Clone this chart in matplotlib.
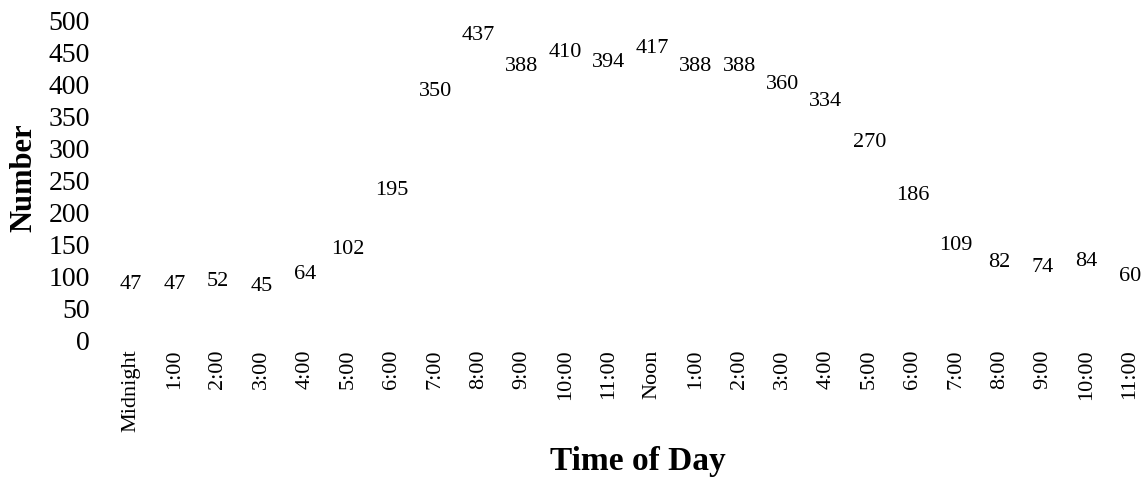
import matplotlib
matplotlib.use('Agg')
import matplotlib.pyplot as plt

plt.rcParams['font.family'] = ['Liberation Serif', 'DejaVu Serif']

# часы суток и количество
hours = ['Midnight', '1:00', '2:00', '3:00', '4:00', '5:00', '6:00', '7:00', '8:00', '9:00',
         '10:00', '11:00', 'Noon', '1:00', '2:00', '3:00', '4:00', '5:00', '6:00', '7:00',
         '8:00', '9:00', '10:00', '11:00']
counts = [47, 47, 52, 45, 64, 102, 195, 350, 437, 388, 410, 394, 417, 388, 388, 360,
          334, 270, 186, 109, 82, 74, 84, 60]
y_ticks = [0, 50, 100, 150, 200, 250, 300, 350, 400, 450, 500]

fig = plt.figure(figsize=(11.45, 4.9), dpi=100)
ax = fig.add_axes([112 / 1145, 1 - 340 / 490, 1031 / 1145, 320 / 490])

x = list(range(len(hours)))
ax.plot(x, counts, linestyle='none')
for xi, v in zip(x, counts):
    ax.annotate(str(v), (xi, v), xytext=(0, 18), textcoords='offset points',
                ha='center', va='center', fontsize=16)

ax.set_xlim(-0.44, 23.3)
ax.set_ylim(0, 500)
ax.set_xticks(x)
ax.set_xticklabels(hours, rotation=90, fontsize=16)
ax.set_yticks(y_ticks)
ax.set_yticklabels([str(t) for t in y_ticks], fontsize=20)
ax.tick_params(axis='both', length=0)
ax.tick_params(axis='x', pad=7)
ax.tick_params(axis='y', pad=16)
for s in ax.spines.values():
    s.set_visible(False)

ax.set_xlabel('Time of Day', fontsize=24, fontweight='bold')
ax.set_ylabel('Number', fontsize=22, fontweight='bold')
ax.xaxis.set_label_coords(0.51, -0.33)
ax.yaxis.set_label_coords(-0.071, 0.506)

fig.savefig('out.png', dpi=100)
